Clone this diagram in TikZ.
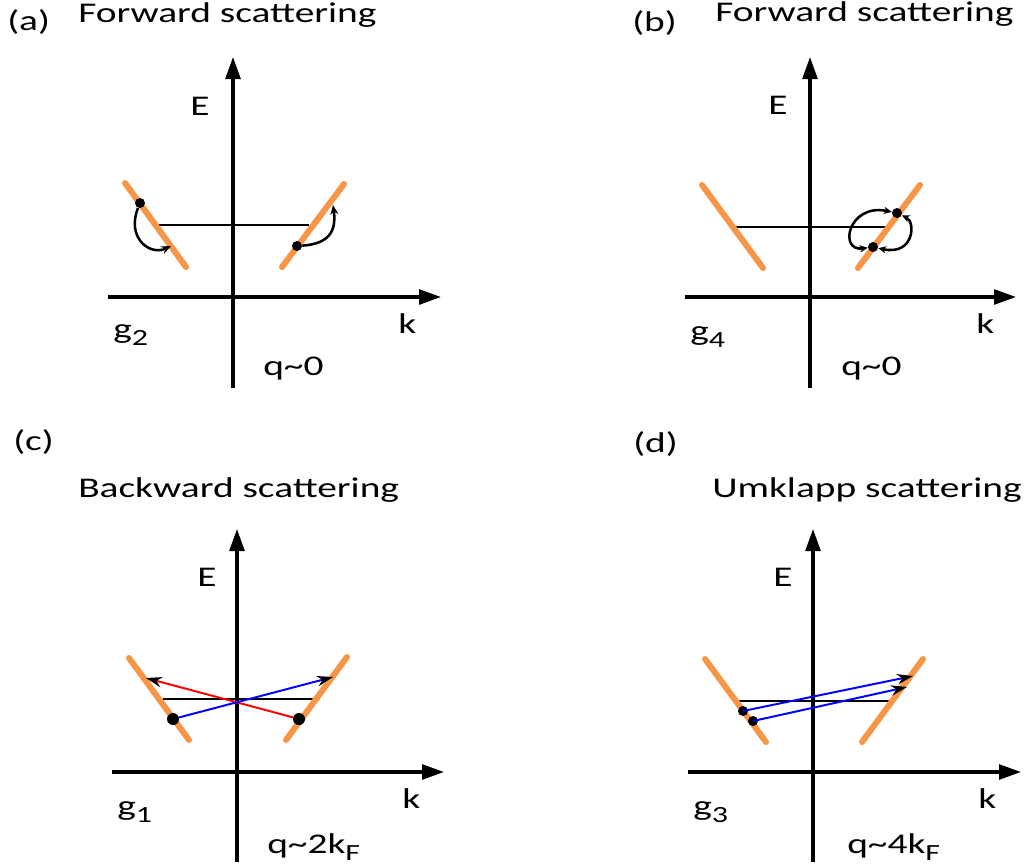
\documentclass[tikz,border=0pt]{standalone}
\usepackage{fontspec}
\setmainfont[FakeStretch=1.38]{Carlito}
\usetikzlibrary{arrows.meta}
\definecolor{bandorange}{RGB}{247,150,70}
\tikzset{
  lbl/.style   = {anchor=base west, inner sep=0pt, font=\fontsize{20.3}{24}\selectfont},
  axis/.style  = {line width=2.3pt, -{Triangle[length=0.55cm, width=0.37cm]}},
  band/.style  = {line width=4.3pt, color=bandorange, line cap=round},
  fermi/.style = {line width=1.3pt},
  dot/.style   = {circle, fill=black, inner sep=0pt, minimum size=0.25cm},
  hop/.style   = {line width=1.8pt, -{Stealth[length=0.24cm, width=0.2cm]}},
  jump/.style  = {line width=1.4pt, -{Stealth[length=0.4cm, width=0.26cm, color=black]}},
}
\newcommand{\lowsub}[1]{\raisebox{-0.25em}{\fontsize{16.5}{18}\selectfont #1}}

\begin{document}
\begin{tikzpicture}[x=0.025cm, y=-0.025cm]
  \useasboundingbox (0,0) rectangle (1029,867);

  % (a) forward scattering, g2
  \node[lbl] (atag)   at (7,31)  {(a)};
  \node[lbl] (atitle) at (78,23) {Forward scattering};
  \coordinate (aybot) at (233,388); \coordinate (aytop) at (233,57);
  \coordinate (axlft) at (108,297); \coordinate (axrgt) at (441,297);
  \draw[axis] (aybot) -- (aytop);
  \draw[axis] (axlft) -- (axrgt);
  \coordinate (af1) at (159,225); \coordinate (af2) at (309,225);
  \draw[fermi] (af1) -- (af2);
  \coordinate (al1) at (125,183); \coordinate (al2) at (186,267);
  \coordinate (ar1) at (282,267); \coordinate (ar2) at (344,184);
  \draw[band] (al1) -- (al2);
  \draw[band] (ar1) -- (ar2);
  \node[dot] (adot1) at (140,203) {};
  \node[dot] (adot2) at (297,246) {};
  \coordinate (aend1) at (171,246);
  \coordinate (aend2) at (333,205);
  \draw[hop] (adot1) .. controls (126,238) and (150,256) .. (aend1);
  \draw[hop] (adot2) .. controls (326,244) and (337,234) .. (aend2);
  \node[lbl] (aE) at (190,115) {E};
  \node[lbl] (ak) at (398,333) {k};
  \node[lbl] (ag) at (113,338) {g\lowsub{2}};
  \node[lbl] (aq) at (263,375) {q\textasciitilde 0};

  % (b) forward scattering, g4
  \node[lbl] (btag)   at (632,32) {(b)};
  \node[lbl] (btitle) at (715,22) {Forward scattering};
  \coordinate (bybot) at (810,388); \coordinate (bytop) at (810,57);
  \coordinate (bxlft) at (685,297); \coordinate (bxrgt) at (1016,297);
  \draw[axis] (bybot) -- (bytop);
  \draw[axis] (bxlft) -- (bxrgt);
  \coordinate (bf1) at (735,227); \coordinate (bf2) at (887,227);
  \draw[fermi] (bf1) -- (bf2);
  \coordinate (bl1) at (702,185); \coordinate (bl2) at (763,268);
  \coordinate (br1) at (858,268); \coordinate (br2) at (920,185);
  \draw[band] (bl1) -- (bl2);
  \draw[band] (br1) -- (br2);
  \node[dot] (bdotup) at (897,213) {};
  \node[dot] (bdotlo) at (873,247) {};
  \draw[hop, {Stealth[length=0.2cm, width=0.18cm]}-{Stealth[length=0.2cm, width=0.18cm]}]
        (bdotlo) .. controls (838,252) and (848,203) .. (bdotup);
  \draw[hop, {Stealth[length=0.2cm, width=0.18cm]}-{Stealth[length=0.2cm, width=0.18cm]}]
        (bdotup) .. controls (916,222) and (914,256) .. (bdotlo);
  \node[lbl] (bE) at (768,114) {E};
  \node[lbl] (bk) at (976,333) {k};
  \node[lbl] (bg) at (690,340) {g\lowsub{4}};
  \node[lbl] (bq) at (841,375) {q\textasciitilde 0};

  % (c) backward scattering, g1
  \node[lbl] (ctag)   at (13,450) {(c)};
  \node[lbl] (ctitle) at (78,497) {Backward scattering};
  \coordinate (cybot) at (237,862); \coordinate (cytop) at (237,529);
  \coordinate (cxlft) at (112,772); \coordinate (cxrgt) at (444,772);
  \draw[axis] (cybot) -- (cytop);
  \draw[axis] (cxlft) -- (cxrgt);
  \coordinate (cf1) at (163,699); \coordinate (cf2) at (313,699);
  \draw[fermi] (cf1) -- (cf2);
  \coordinate (cl1) at (129,658); \coordinate (cl2) at (189,740);
  \coordinate (cr1) at (286,740); \coordinate (cr2) at (347,657);
  \draw[band] (cl1) -- (cl2);
  \draw[band] (cr1) -- (cr2);
  \node[dot, minimum size=0.3cm] (cdotl) at (173,719) {};
  \node[dot, minimum size=0.3cm] (cdotr) at (299,719) {};
  \coordinate (cendl) at (146,678);
  \coordinate (cendr) at (333,677);
  \draw[jump, red]  (cdotr) -- (cendl);
  \draw[jump, blue] (cdotl) -- (cendr);
  \node[lbl] (cE) at (197,586) {E};
  \node[lbl] (ck) at (402,808) {k};
  \node[lbl] (cg) at (117,815) {g\lowsub{1}};
  \node[lbl] (cq) at (267,853) {q\textasciitilde 2k\lowsub{F}};

  % (d) umklapp scattering, g3
  \node[lbl] (dtag)   at (633,452) {(d)};
  \node[lbl] (dtitle) at (712,497) {Umklapp scattering};
  \coordinate (dybot) at (813,862); \coordinate (dytop) at (813,529);
  \coordinate (dxlft) at (688,772); \coordinate (dxrgt) at (1021,772);
  \draw[axis] (dybot) -- (dytop);
  \draw[axis] (dxlft) -- (dxrgt);
  \coordinate (df1) at (739,701); \coordinate (df2) at (889,701);
  \draw[fermi] (df1) -- (df2);
  \coordinate (dl1) at (705,659); \coordinate (dl2) at (766,742);
  \coordinate (dr1) at (862,742); \coordinate (dr2) at (923,659);
  \draw[band] (dl1) -- (dl2);
  \draw[band] (dr1) -- (dr2);
  \node[dot] (ddot1) at (743,711) {};
  \node[dot] (ddot2) at (753,721) {};
  \coordinate (dend1) at (913,676);
  \coordinate (dend2) at (907,687);
  \draw[jump, blue] (ddot1.center) -- (dend1);
  \draw[jump, blue] (ddot2.center) -- (dend2);
  \node[lbl] (dE) at (773,586) {E};
  \node[lbl] (dk) at (978,808) {k};
  \node[lbl] (dg) at (693,815) {g\lowsub{3}};
  \node[lbl] (dq) at (847,853) {q\textasciitilde 4k\lowsub{F}};
\end{tikzpicture}
\end{document}
